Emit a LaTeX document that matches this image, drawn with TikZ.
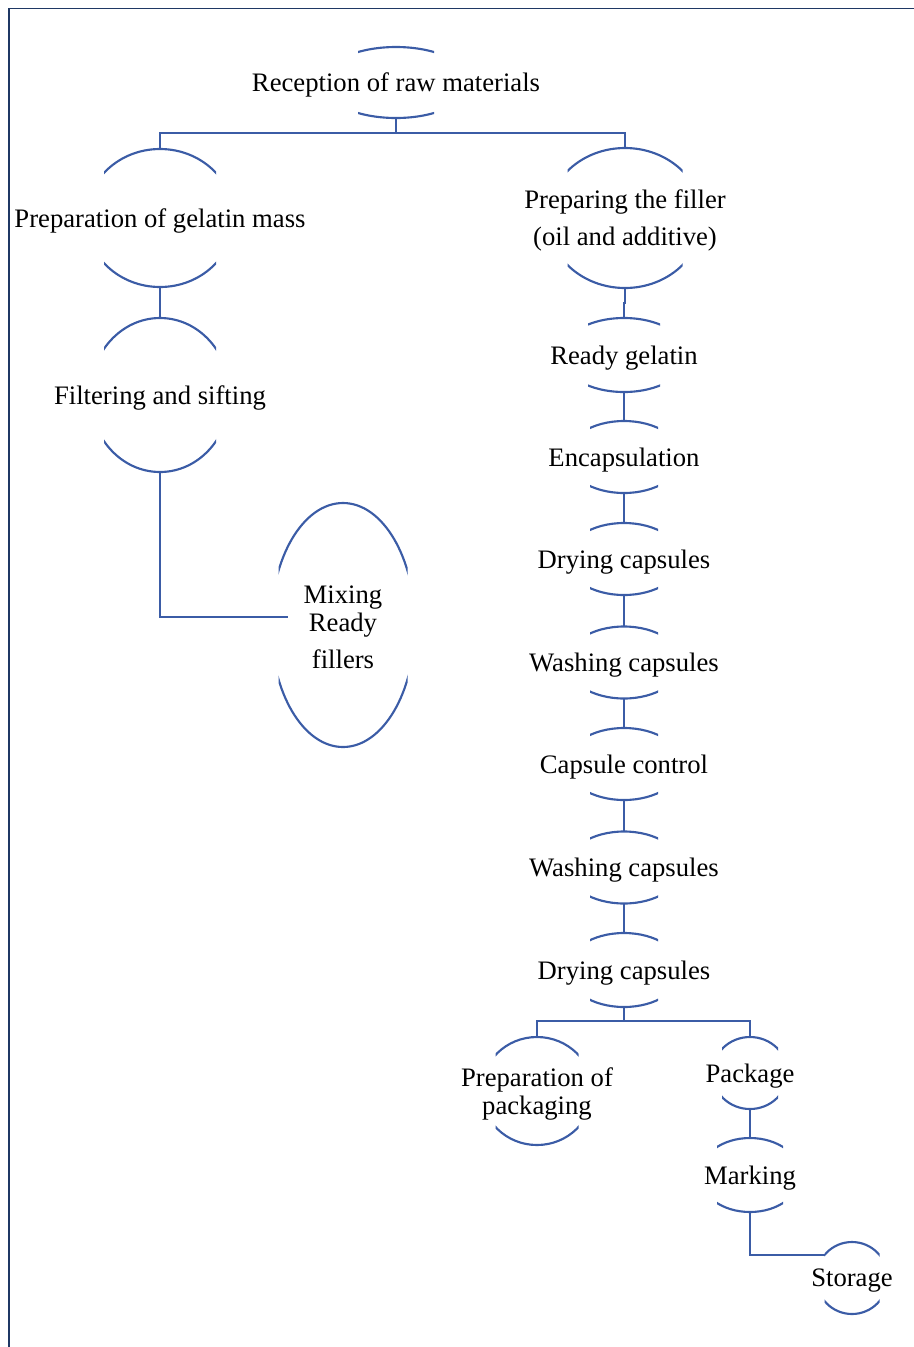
\documentclass[tikz,border=0pt]{standalone}
\usepackage{fontspec}
\setmainfont{Liberation Serif}
\usetikzlibrary{shapes.geometric}
\definecolor{capblue}{HTML}{3B5CA6}
\definecolor{framecol}{HTML}{1F3864}
\tikzset{
  capline/.style={draw=capblue, line width=1.6pt},
  conn/.style={draw=capblue, line width=1.6pt},
  lbl/.style={font=\fontsize{20}{21}\selectfont, align=center, inner sep=0pt, text=black, yshift=-2pt},
  shapebox/.style={ellipse, draw=none, inner sep=0pt, outer sep=0pt},
  framel/.style={draw=framecol, line width=1.2pt}
}
% #1 name, #2 cx, #3 cy, #4 x radius, #5 y radius, #6 visible half width, #7 label options, #8 text
\newcommand\capnode[8]{%
  \node[shapebox, minimum width={2*#4*0.75pt}, minimum height={2*#5*0.75pt}] (#1) at (#2,#3) {};
  \begin{scope}
    \clip ({#2-#6},{#3-#5-5}) rectangle ({#2+#6},{#3+#5+5});
    \draw[capline] (#1.center) ellipse[x radius=#4, y radius=#5];
  \end{scope}
  \node[lbl,#7] (#1t) at (#1.center) {#8};
}
\begin{document}
\begin{tikzpicture}[x=0.75pt, y=-0.75pt]
\useasboundingbox (0,0) rectangle (914,1347);
\coordinate (fa) at (9,1347);
\coordinate (fb) at (9,8.5);
\coordinate (fc) at (914,8.5);
\draw[framel] (fa) -- (fb) -- (fc);

\capnode{r1}{396}{82.5}{74}{35.5}{38}{}{Reception of raw materials}
\capnode{r2}{160}{218}{74}{69}{56}{}{Preparation of gelatin mass}
\capnode{r3}{160}{395}{70}{77}{56}{}{Filtering and sifting}
\capnode{r4}{343}{625}{72}{122}{64.5}{}{Mixing\\Ready\\[6.75pt]fillers}
\capnode{r5}{625}{218}{77.6}{70}{57.5}{}{Preparing the filler\\[6.75pt](oil and additive)}
\capnode{r6}{624}{355}{63.5}{37}{36}{}{Ready gelatin}
\capnode{r7}{624}{457}{57.5}{36}{34}{}{Encapsulation}
\capnode{r8}{624}{559}{57.5}{36}{34}{}{Drying capsules}
\capnode{r9}{624}{662.5}{57.5}{36}{34}{}{Washing capsules}
\capnode{r10}{624}{764}{57.5}{36}{34}{}{Capsule control}
\capnode{r11}{624}{867.5}{57.5}{36}{34}{}{Washing capsules}
\capnode{r12}{624}{970}{57.5}{37}{34}{}{Drying capsules}
\capnode{r13}{537}{1091}{55.7}{54}{41.5}{}{Preparation of\\packaging}
\capnode{r14}{750}{1073}{37.6}{36}{28}{}{Package}
\capnode{r15}{750}{1175}{50.5}{37}{33}{}{Marking}
\capnode{r16}{852}{1278}{35.8}{36}{27.5}{}{Storage}

\coordinate (mixin) at (288,617);

\draw[conn] (r1.south) -- ++(0,15) coordinate (j1);
\draw[conn] (j1) -| (r2.north);
\draw[conn] (j1) -| (r5.north);
\draw[conn] (r2.south) -- (r3.north);
\draw[conn] (r3.south) |- (mixin);
\draw[conn] (r5.south) -- ++(0,15) -| (r6.north);
\draw[conn] (r6.south) -- (r7.north);
\draw[conn] (r7.south) -- (r8.north);
\draw[conn] (r8.south) -- (r9.north);
\draw[conn] (r9.south) -- (r10.north);
\draw[conn] (r10.south) -- (r11.north);
\draw[conn] (r11.south) -- (r12.north);
\draw[conn] (r12.south) -- ++(0,14) coordinate (j2);
\draw[conn] (j2) -| (r13.north);
\draw[conn] (j2) -| (r14.north);
\draw[conn] (r14.south) -- (r15.north);
\draw[conn] (r15.south) |- (r16.140);
\end{tikzpicture}
\end{document}
